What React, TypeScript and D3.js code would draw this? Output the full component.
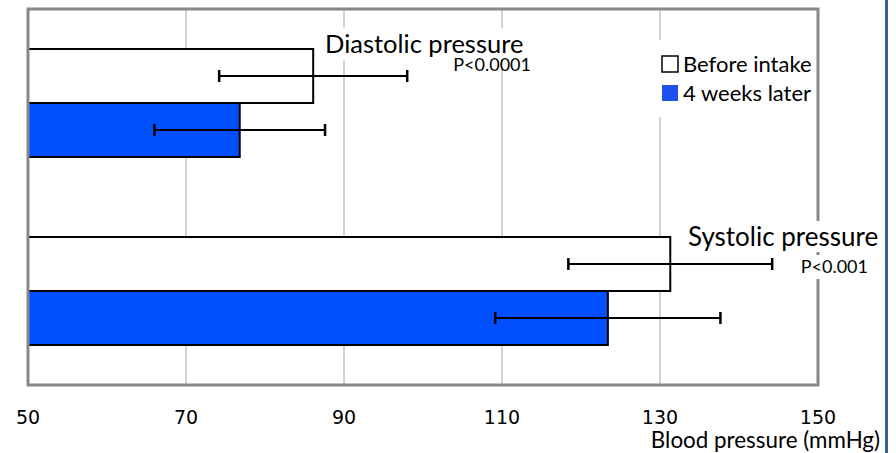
import * as d3 from 'd3';

// groups from top to bottom
const groups = ['Diastolic pressure', 'Systolic pressure'];
const pLabels = ['P<0.0001', 'P<0.001'];
const series = ['Before intake', '4 weeks later'];
const means = [
  [86.1, 76.8],
  [131.3, 123.4],
];
const sds = [
  [11.9, 10.8],
  [12.9, 14.25],
];
const ticks = [50, 70, 90, 110, 130, 150];

const W = 896;
const H = 453;
const FONT = 'Lato, "Open Sans", sans-serif';

const App = () => {
  const x = d3.scaleLinear().domain([50, 150]).range([28, 818]);
  const y0 = d3.scaleBand<string>().domain(groups).range([9, 385]).paddingInner(0.4255).paddingOuter(0.21275);
  const y1 = d3.scaleBand<string>().domain(series).range([0, y0.bandwidth()]);
  const fills = ['#ffffff', '#0050ff'];

  return (
    <svg width={W} height={H} style={{ position: 'absolute', left: 0, top: 0, background: '#fff' }}>
      {/* plot background + gridlines */}
      <rect x={x(50)} y={9} width={x(150) - x(50)} height={376} fill='#fff' />
      {ticks.slice(1, -1).map((t) => (
        <line key={t} x1={x(t)} x2={x(t)} y1={9} y2={385} stroke='#a6a6a6' strokeWidth={1} />
      ))}

      {/* bars */}
      {groups.map((g, gi) => (
        <g key={g} transform={`translate(0,${y0(g)})`}>
          {series.map((s, si) => (
            <rect
              key={s}
              x={x(50)}
              y={y1(s)}
              width={x(means[gi][si]) - x(50)}
              height={y1.bandwidth()}
              fill={fills[si]}
              stroke='#000'
              strokeWidth={2}
            />
          ))}
        </g>
      ))}

      {/* error bars */}
      {groups.map((g, gi) =>
        series.map((s, si) => {
          const cy = (y0(g) || 0) + (y1(s) || 0) + y1.bandwidth() / 2;
          const lo = x(means[gi][si] - sds[gi][si]);
          const hi = x(means[gi][si] + sds[gi][si]);
          return (
            <g key={g + s} stroke='#000' strokeWidth={2}>
              <line x1={lo} x2={hi} y1={cy} y2={cy} />
              <line x1={lo} x2={lo} y1={cy - 6} y2={cy + 6} strokeWidth={2.5} />
              <line x1={hi} x2={hi} y1={cy - 6} y2={cy + 6} strokeWidth={2.5} />
            </g>
          );
        })
      )}

      {/* plot border */}
      <rect x={x(50)} y={9} width={x(150) - x(50)} height={376} fill='none' stroke='#878787' strokeWidth={3} />

      {/* group labels */}
      <rect x={323} y={28} width={206} height={32} fill='#fff' />
      <text x={325} y={53} fontFamily={FONT} fontSize={25.5} fill='#000'>{groups[0]}</text>
      <text x={531} y={71} fontFamily={FONT} fontSize={18} textAnchor='end' fill='#000'>{pLabels[0]}</text>

      <rect x={684} y={221} width={198} height={31} fill='#fff' />
      <rect x={795} y={255} width={78} height={24} fill='#fff' />
      <text x={688} y={246} fontFamily={FONT} fontSize={26} fill='#000'>{groups[1]}</text>
      <text x={868} y={273} fontFamily={FONT} fontSize={18} textAnchor='end' fill='#000'>{pLabels[1]}</text>

      {/* legend */}
      <rect x={656} y={40} width={160} height={77} fill='#fff' />
      {series.map((s, si) => (
        <g key={s} transform={`translate(662,${56 + si * 29})`}>
          <rect x={0} y={0} width={16} height={16} fill={si === 0 ? '#fff' : '#2050f0'} stroke={si === 0 ? '#000' : 'none'} strokeWidth={1.5} />
          <text x={21} y={16} fontFamily={FONT} fontSize={22} fill='#000'>{s}</text>
        </g>
      ))}

      {/* x axis tick labels */}
      {ticks.map((t) => (
        <text key={t} x={x(t)} y={424} textAnchor='middle' fontFamily='"DejaVu Sans", sans-serif' fontSize={19} fill='#000'>
          {t}
        </text>
      ))}
      <text x={880} y={448} textAnchor='end' fontFamily={FONT} fontSize={22.4} fill='#000'>
        Blood pressure (mmHg)
      </text>

      {/* right edge strip */}
      <rect x={885} y={0} width={3} height={H} fill='#3b5f8f' />
    </svg>
  );
};

export default App;
